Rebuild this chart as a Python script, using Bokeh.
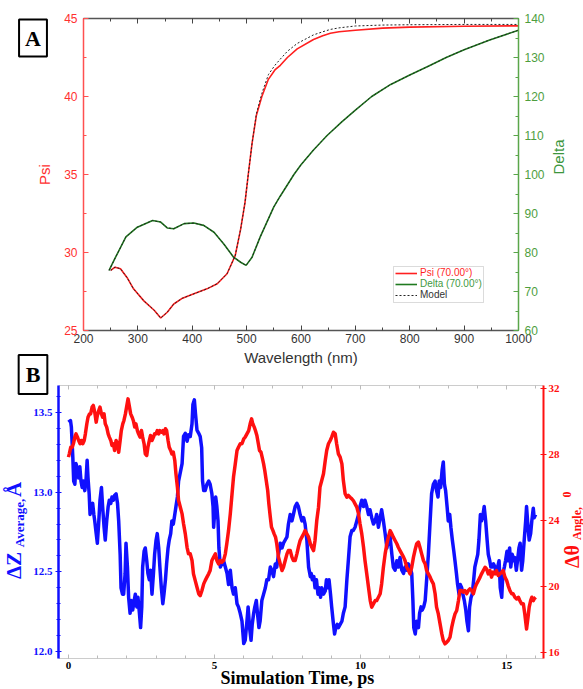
from math import pi
from bokeh.plotting import figure
from bokeh.models import (Range1d, LinearAxis, SingleIntervalTicker, PrintfTickFormatter,
                          Label, Legend, LegendItem, BoxAnnotation)
from bokeh.embed import file_html
from bokeh.resources import INLINE

# ---------------- Panel A data (ellipsometry) ----------------
wl_psi = [250, 258, 268, 280, 292, 311, 330, 342, 354, 366, 382, 403, 427, 446, 464, 470,
          479, 489, 497, 503, 510, 518, 528, 540, 552, 562, 575, 593, 623, 640, 654, 670,
          700, 750, 800, 900, 1000]
psi = [28.85, 29.06, 28.96, 28.40, 27.67, 26.90, 26.30, 25.80, 26.17, 26.70, 27.07, 27.35,
       27.67, 28.00, 28.64, 29.10, 29.80, 31.50, 33.20, 35.00, 37.00, 38.80, 40.00, 41.10,
       41.70, 42.00, 42.50, 43.05, 43.65, 43.90, 44.05, 44.15, 44.25, 44.38, 44.45, 44.50, 44.53]
psi_model = [28.85, 29.06, 28.96, 28.40, 27.67, 26.90, 26.30, 25.80, 26.17, 26.70, 27.07, 27.35,
             27.67, 28.00, 28.64, 29.10, 29.80, 31.50, 33.20, 35.00, 37.00, 38.90, 40.20, 41.40,
             42.00, 42.40, 42.90, 43.40, 43.95, 44.15, 44.30, 44.40, 44.52, 44.58, 44.60, 44.62,
             44.62]

wl_delta = [247, 259, 278, 299, 327, 342, 354, 366, 385, 403, 421, 440, 458, 476, 489, 499,
            510, 525, 550, 562, 587, 600, 623, 648, 675, 700, 730, 765, 800, 835, 867, 900,
            947, 1000]
delta = [75.4, 78.8, 84.0, 86.5, 88.2, 87.8, 86.3, 86.1, 87.4, 87.55, 86.95, 85.2, 82.2, 78.8,
         77.5, 76.7, 78.8, 84.0, 91.7, 94.5, 100.0, 102.5, 106.3, 110.0, 113.5, 116.5, 120.0,
         123.1, 125.5, 127.8, 130.0, 132.0, 134.5, 137.0]
delta_model = [75.4, 78.8, 84.0, 86.5, 88.2, 87.8, 86.3, 86.1, 87.4, 87.55, 86.95, 85.2, 82.2,
               78.8, 77.5, 76.7, 78.8, 84.0, 91.7, 94.5, 100.0, 102.5, 106.3, 110.0, 113.5,
               116.5, 120.0, 123.1, 125.5, 127.8, 130.0, 132.0, 134.5, 137.0]

legend_labels = ["Psi (70.00°)", "Delta (70.00°)", "Model"]

# ---------------- Panel B data (simulation) ----------------
t_z = [0.00, 0.07, 0.10, 0.15, 0.18, 0.22, 0.26, 0.31, 0.35, 0.39, 0.43, 0.47, 0.51, 0.56, 0.60,
       0.64, 0.67, 0.71, 0.74, 0.79, 0.83, 0.87, 0.90, 0.95, 0.99, 1.04, 1.08, 1.13, 1.17, 1.22,
       1.26, 1.31, 1.36, 1.40, 1.45, 1.49, 1.54, 1.58, 1.63, 1.68, 1.72, 1.77, 1.80, 1.85, 1.89,
       1.94, 1.97, 2.02, 2.06, 2.11, 2.15, 2.20, 2.25, 2.29, 2.34, 2.38, 2.43, 2.47, 2.51, 2.54,
       2.59, 2.63, 2.68, 2.72, 2.77, 2.81, 2.86, 2.91, 2.95, 3.00, 3.04, 3.09, 3.13, 3.18, 3.23,
       3.27, 3.32, 3.36, 3.41, 3.45, 3.50, 3.54, 3.59, 3.64, 3.68, 3.73, 3.77,
       3.89, 3.94, 4.00, 4.06, 4.11, 4.17, 4.23, 4.26, 4.31, 4.35, 4.40, 4.46, 4.51, 4.56, 4.59,
       4.63, 4.68, 4.74, 4.80, 4.85, 4.91, 4.95, 4.97, 5.00, 5.04, 5.08, 5.12, 5.15, 5.20, 5.25,
       5.31, 5.37, 5.43, 5.48, 5.54, 5.60, 5.65, 5.71, 5.77, 5.82, 5.88, 5.94, 6.00, 6.05, 6.11,
       6.15, 6.20, 6.25, 6.29, 6.34, 6.38, 6.43, 6.47, 6.52, 6.56, 6.62, 6.68, 6.74, 6.79, 6.85,
       6.91, 6.96, 7.02, 7.08, 7.13, 7.19, 7.25, 7.31, 7.36, 7.42, 7.48, 7.53, 7.59, 7.65, 7.70,
       7.76, 7.82, 7.87, 7.93, 7.99, 8.05, 8.10, 8.16, 8.22, 8.28,
       8.31, 8.35, 8.40, 8.44, 8.49, 8.54, 8.58, 8.63, 8.67, 8.73, 8.79, 8.83, 8.88, 8.92, 8.97,
       9.01, 9.06, 9.11, 9.15, 9.20, 9.24, 9.30, 9.36, 9.41, 9.47, 9.53, 9.58, 9.64, 9.70, 9.75,
       9.81, 9.87, 9.93, 9.98, 10.04, 10.10, 10.15, 10.21, 10.27, 10.32, 10.38, 10.44, 10.50,
       10.55, 10.61, 10.67, 10.72, 10.78, 10.84, 10.90, 10.95, 11.01, 11.07, 11.12, 11.18, 11.24,
       11.29, 11.35, 11.41, 11.47, 11.52, 11.58, 11.63, 11.69, 11.75, 11.79, 11.82, 11.87, 11.92,
       11.98, 12.02, 12.07, 12.11, 12.16, 12.21, 12.26, 12.32, 12.38, 12.43, 12.49, 12.55,
       12.60, 12.65, 12.69, 12.74, 12.79, 12.83, 12.87, 12.91, 12.96, 13.00, 13.05, 13.09, 13.14,
       13.19, 13.23, 13.28, 13.32, 13.37, 13.41, 13.46, 13.50, 13.55, 13.60, 13.64, 13.69, 13.73,
       13.78, 13.82, 13.87, 13.91, 13.96, 14.01, 14.05, 14.10, 14.14, 14.19, 14.23, 14.28, 14.33,
       14.37, 14.42, 14.46, 14.51, 14.55, 14.60, 14.64, 14.69, 14.74, 14.78, 14.83, 14.87, 14.92,
       14.96, 15.01, 15.05, 15.10, 15.14, 15.19, 15.24, 15.28, 15.33, 15.37, 15.42, 15.46, 15.51,
       15.55, 15.60, 15.65, 15.68, 15.73, 15.77, 15.82, 15.86, 15.91, 15.94, 15.99]
dz_avg = [13.44, 13.45, 13.41, 13.22, 13.07, 13.05, 13.18, 13.14, 13.09, 13.16, 13.07, 13.03, 13.07,
          13.01, 13.07, 13.20, 13.09, 12.99, 12.86, 12.91, 12.93, 12.86, 12.82, 12.74, 12.68, 12.82,
          12.95, 13.03, 12.91, 12.78, 12.70, 12.82, 12.91, 12.95, 12.93, 12.97, 12.95, 12.98, 12.99,
          12.93, 12.82, 12.61, 12.40, 12.36, 12.36, 12.49, 12.68, 12.53, 12.34, 12.24, 12.32, 12.26,
          12.32, 12.36, 12.28, 12.34, 12.24, 12.15, 12.28, 12.53, 12.63, 12.65, 12.57, 12.49, 12.45,
          12.51, 12.36, 12.49, 12.61, 12.70, 12.74, 12.65, 12.53, 12.40, 12.30, 12.36, 12.45, 12.55,
          12.65, 12.70, 12.74, 12.82, 12.80, 12.86, 12.91, 12.97, 13.07,
          13.18, 13.35, 13.37, 13.32, 13.36, 13.35, 13.43, 13.55, 13.58, 13.49, 13.39, 13.37, 13.35,
          13.28, 13.07, 13.01, 13.01, 13.05, 13.07, 13.05, 12.99, 12.91, 12.78, 12.86, 12.97, 12.91,
          12.82, 12.65, 12.53, 12.55, 12.57, 12.53, 12.49, 12.42, 12.51, 12.40, 12.36, 12.40, 12.30,
          12.28, 12.24, 12.19, 12.05, 12.07, 12.19, 12.28, 12.15, 12.07, 12.17, 12.24, 12.28, 12.32,
          12.24, 12.15, 12.19, 12.32, 12.36, 12.40, 12.45, 12.45, 12.53, 12.51, 12.47, 12.55, 12.53,
          12.61, 12.68, 12.65, 12.68, 12.70, 12.72, 12.80, 12.86, 12.82, 12.86, 12.91, 12.93, 12.91,
          12.86, 12.82, 12.84, 12.80, 12.70, 12.53, 12.47,
          12.49, 12.45, 12.47, 12.40, 12.45, 12.36, 12.40, 12.34, 12.40, 12.36, 12.38, 12.45, 12.40,
          12.45, 12.36, 12.28, 12.19, 12.11, 12.15, 12.17, 12.15, 12.17, 12.19, 12.24, 12.28, 12.45,
          12.57, 12.72, 12.76, 12.76, 12.78, 12.82, 12.86, 12.91, 12.95, 12.91, 12.95, 12.91, 12.86,
          12.89, 12.84, 12.80, 12.82, 12.86, 12.78, 12.84, 12.89, 12.82, 12.74, 12.65, 12.70, 12.72,
          12.61, 12.53, 12.51, 12.57, 12.53, 12.59, 12.51, 12.49, 12.53, 12.51, 12.55, 12.53, 12.49,
          12.32, 12.15, 12.11, 12.19, 12.15, 12.24, 12.28, 12.26, 12.28, 12.32, 12.45, 12.61, 12.82,
          12.99, 13.05, 13.07,
          13.01, 12.97, 13.07, 13.03, 13.14, 13.19, 13.05, 13.01, 12.91, 12.82, 12.86, 12.78, 12.70,
          12.63, 12.57, 12.49, 12.42, 12.36, 12.42, 12.40, 12.36, 12.32, 12.26, 12.19, 12.13, 12.28,
          12.34, 12.36, 12.45, 12.53, 12.57, 12.61, 12.70, 12.86, 12.82, 12.86, 12.91, 12.82, 12.70,
          12.61, 12.57, 12.53, 12.53, 12.55, 12.53, 12.49, 12.53, 12.57, 12.40, 12.34, 12.49, 12.53,
          12.57, 12.63, 12.57, 12.65, 12.53, 12.61, 12.57, 12.59, 12.51, 12.57, 12.65, 12.68, 12.51,
          12.57, 12.70, 12.82, 12.91, 12.78, 12.70, 12.74, 12.82, 12.90, 12.84, 12.86]

t_a = [0.00, 0.03, 0.08, 0.13, 0.17, 0.22, 0.26, 0.31, 0.35, 0.40, 0.44, 0.49, 0.54, 0.58, 0.63,
       0.67, 0.72, 0.76, 0.81, 0.85, 0.90, 0.95, 0.99, 1.04, 1.08, 1.13, 1.17, 1.22, 1.26, 1.31,
       1.36, 1.40, 1.45, 1.49, 1.54, 1.58, 1.63, 1.68, 1.72, 1.77, 1.81, 1.86, 1.90, 1.95, 1.99,
       2.04, 2.09, 2.13, 2.18, 2.22, 2.27, 2.31, 2.36, 2.40, 2.45, 2.50, 2.54, 2.59, 2.63, 2.68,
       2.72, 2.77, 2.81, 2.86, 2.91, 2.95, 3.00, 3.04, 3.09, 3.13, 3.18, 3.23, 3.27, 3.32, 3.36,
       3.41, 3.45, 3.50, 3.54, 3.59, 3.64, 3.68, 3.73, 3.77,
       3.89, 3.94, 4.00, 4.06, 4.11, 4.17, 4.23, 4.28, 4.34, 4.40, 4.46, 4.51, 4.57, 4.63, 4.68,
       4.74, 4.80, 4.85, 4.91, 4.97, 5.03, 5.08, 5.14, 5.20, 5.25, 5.31, 5.37, 5.42, 5.48, 5.54,
       5.60, 5.65, 5.71, 5.77, 5.82, 5.88, 5.94, 6.00, 6.05, 6.11, 6.17, 6.22, 6.27, 6.31, 6.36,
       6.40, 6.45, 6.50, 6.54, 6.59, 6.63, 6.68, 6.72, 6.77, 6.82, 6.86, 6.91, 6.95, 7.00, 7.04,
       7.09, 7.13, 7.19, 7.25, 7.31, 7.36, 7.42, 7.48, 7.53, 7.59, 7.65, 7.70, 7.76, 7.82, 7.87,
       7.93, 7.99, 8.05, 8.10, 8.16, 8.22, 8.28,
       8.33, 8.39, 8.44, 8.50, 8.56, 8.61, 8.67, 8.73, 8.79, 8.84, 8.90, 8.96, 9.01, 9.07, 9.13,
       9.18, 9.24, 9.30, 9.36, 9.41, 9.47, 9.53, 9.58, 9.64, 9.70, 9.75, 9.81, 9.87, 9.93, 9.98,
       10.04, 10.10, 10.15, 10.21, 10.27, 10.33, 10.38, 10.44, 10.50, 10.55, 10.61, 10.67, 10.72,
       10.78, 10.84, 10.90, 10.95, 11.01, 11.07, 11.12, 11.18, 11.24, 11.29, 11.35, 11.41, 11.47,
       11.52, 11.58, 11.64, 11.69, 11.75, 11.81, 11.86, 11.92, 11.98, 12.03, 12.09, 12.15, 12.21,
       12.26, 12.32, 12.38, 12.43, 12.49, 12.55,
       12.60, 12.66, 12.72, 12.78, 12.83, 12.89, 12.95, 13.00, 13.06, 13.12, 13.17, 13.23, 13.29,
       13.35, 13.40, 13.46, 13.52, 13.57, 13.63, 13.69, 13.74, 13.80, 13.86, 13.92, 13.97, 14.03,
       14.09, 14.14, 14.20, 14.26, 14.31, 14.37, 14.43, 14.48, 14.54, 14.60, 14.65, 14.71, 14.77,
       14.83, 14.88, 14.94, 15.00, 15.05, 15.11, 15.17, 15.22, 15.28, 15.34, 15.40, 15.45, 15.51,
       15.57, 15.62, 15.68, 15.73, 15.77, 15.82, 15.86, 15.91, 15.94, 15.99]
d_theta = [27.84, 28.04, 28.44, 28.44, 28.65, 29.05, 29.25, 29.05, 28.85, 28.65, 28.85, 28.65, 28.85,
           29.25, 29.86, 30.26, 30.46, 30.46, 30.87, 30.97, 30.57, 29.96, 30.36, 30.67, 30.87, 30.46,
           30.26, 30.46, 29.86, 29.66, 29.25, 29.05, 28.85, 28.55, 28.65, 28.24, 28.85, 28.65, 28.14,
           28.85, 29.45, 29.86, 30.06, 30.46, 30.87, 31.37, 30.87, 30.46, 30.26, 30.06, 29.66, 29.86,
           29.45, 29.25, 29.05, 29.45, 29.05, 28.65, 28.04, 27.94, 28.44, 28.85, 29.15, 28.85, 29.05,
           29.25, 29.25, 29.45, 29.25, 29.45, 29.35, 29.45, 29.25, 29.56, 29.45, 28.85, 28.44, 28.24,
           28.04, 28.14, 27.64, 26.83, 26.02, 25.21,
           24.40, 23.80, 23.19, 22.38, 21.98, 21.98, 21.58, 20.77, 20.36, 19.96, 19.56, 19.45, 19.76,
           20.16, 20.36, 20.57, 20.77, 20.97, 21.58, 21.78, 21.98, 21.58, 21.37, 21.58, 21.47, 21.58,
           21.98, 22.59, 23.39, 24.40, 25.62, 26.63, 27.43, 28.24, 28.44, 28.65, 28.65, 28.95, 29.05,
           29.25, 29.45, 29.86, 30.16, 29.86, 29.66, 29.45, 29.15, 28.65, 28.24, 28.14, 27.84, 27.43,
           27.03, 26.42, 25.82, 25.01, 24.20, 23.60, 23.39, 23.19, 22.99, 22.59, 21.78, 21.37, 20.97,
           21.17, 21.58, 21.98, 22.18, 22.18, 21.78, 21.58, 21.58, 21.98, 22.38, 22.79, 22.99, 23.19,
           23.39, 23.19, 22.99, 22.59,
           22.38, 22.18, 22.79, 24.00, 24.81, 26.02, 26.42, 26.83, 27.64, 28.24, 28.65, 28.85, 29.05,
           29.35, 29.25, 28.65, 28.04, 27.84, 27.43, 26.42, 25.62, 25.41, 25.52, 25.41, 25.31, 25.21,
           25.01, 24.81, 24.40, 23.80, 23.19, 22.38, 21.58, 20.77, 19.96, 19.15, 18.75, 18.95, 19.15,
           19.15, 19.35, 19.56, 20.16, 21.17, 21.98, 22.59, 22.99, 23.39, 23.19, 22.99, 22.79, 22.59,
           22.38, 22.18, 21.98, 21.78, 21.58, 21.17, 20.97, 20.77, 21.17, 21.78, 22.18, 22.59, 22.69,
           22.38, 21.98, 21.58, 21.37, 20.97, 20.77, 20.57, 20.36, 20.16, 19.56,
           18.75, 18.34, 17.74, 17.13, 16.73, 16.53, 16.63, 16.73, 16.93, 17.54, 17.94, 18.34, 18.55,
           19.15, 19.76, 19.76, 19.66, 19.76, 19.56, 19.76, 19.86, 19.76, 19.56, 19.96, 20.16, 20.36,
           20.57, 20.77, 20.97, 21.17, 21.07, 20.77, 20.97, 20.57, 20.87, 20.77, 20.97, 20.67, 20.77,
           20.87, 20.97, 20.57, 20.36, 20.06, 19.76, 19.56, 19.56, 19.35, 19.25, 19.35, 19.15, 18.95,
           18.95, 18.34, 17.43, 18.14, 18.75, 19.15, 19.35, 19.15, 19.25, 19.35]

SANS = "Liberation Sans"
SERIF = "Liberation Serif"

RED_A = "#ff1f1f"
GREEN_A = "#1f7a1f"
GREEN_AX = "#5aa64a"
BLUE_B = "#1010ff"
RED_B = "#ff1010"


def axis(ticker, line_color, line_width, tick_color, lab_color, font, size, style="normal",
         t_in=5, t_out=0, m_in=3, m_out=0, standoff=4, fmt=None, **kw):
    ax = LinearAxis(ticker=ticker, axis_line_color=line_color, axis_line_width=line_width,
                    major_tick_line_color=tick_color, minor_tick_line_color=tick_color,
                    major_tick_line_width=1, minor_tick_line_width=1,
                    major_tick_in=t_in, major_tick_out=t_out, minor_tick_in=m_in, minor_tick_out=m_out,
                    major_label_text_font=font, major_label_text_font_size=size,
                    major_label_text_font_style=style, major_label_text_color=lab_color,
                    major_label_standoff=standoff, **kw)
    if fmt is not None:
        ax.formatter = fmt
    return ax


def text(fig, side, x, y, txt, size, color, font, style="normal", angle=0.0, **kw):
    # x, y: page pixels of the text centre (the first figure spans the whole page)
    fig.add_layout(Label(x=x, y=y, x_units="canvas", y_units="canvas", text=txt, angle=angle,
                         text_font=font, text_font_style=style, text_font_size=size,
                         text_color=color, text_align="center", text_baseline="middle", **kw),
                   side)


# ======================= Panel A (its canvas spans the full page) =======================
p1 = figure(width=583, height=689, x_range=Range1d(200, 1000), y_range=Range1d(25, 45),
            x_axis_location=None, y_axis_location=None, output_backend="svg",
            toolbar_location=None, min_border_left=83, min_border_right=65,
            min_border_top=18, min_border_bottom=359)
p1.extra_y_ranges = {"delta": Range1d(60, 140)}
p1.grid.visible = False
p1.outline_line_color = None

p1.add_layout(axis(SingleIntervalTicker(interval=100, num_minor_ticks=2), "#555", 1.5, "#444",
                   "#333", SANS, "12px", standoff=3, axis_label="Wavelength (nm)",
                   axis_label_text_font=SANS, axis_label_text_font_size="15px",
                   axis_label_text_font_style="normal", axis_label_text_color="#333333",
                   axis_label_standoff=3), "below")
p1.add_layout(axis(SingleIntervalTicker(interval=100, num_minor_ticks=2), "#555", 1.5, "#444",
                   "#333", SANS, "1px",
                   major_label_overrides={v: "" for v in range(200, 1001, 100)}), "above")
p1.add_layout(axis(SingleIntervalTicker(interval=5, num_minor_ticks=2), "#ff5050", 1.5, "#ff5050",
                   "#ff3030", SANS, "12px", standoff=6, axis_label="Psi",
                   axis_label_text_font=SANS, axis_label_text_font_size="15px",
                   axis_label_text_font_style="normal", axis_label_text_color="#ff3030",
                   axis_label_standoff=8), "left")
p1.add_layout(axis(SingleIntervalTicker(interval=10, num_minor_ticks=2), GREEN_AX, 1.5, GREEN_AX,
                   "#4e9e3e", SANS, "12px", standoff=6, y_range_name="delta", axis_label="Delta",
                   axis_label_text_font=SANS, axis_label_text_font_size="15px",
                   axis_label_text_font_style="normal", axis_label_text_color="#3c963c",
                   axis_label_standoff=11, axis_label_orientation=pi / 2), "right")

r_psi = p1.line(wl_psi, psi, line_color=RED_A, line_width=1.6)
r_del = p1.line(wl_delta, delta, line_color=GREEN_A, line_width=1.6, y_range_name="delta")
r_mod = p1.line(wl_psi, psi_model, line_color="#222222", line_width=1, line_dash="2 2")
p1.line(wl_delta, delta_model, line_color="#222222", line_width=1, line_dash="2 2",
        y_range_name="delta")

leg_colors = [RED_A, "#3f9a3f", "#333333"]
for i, (lab, rend, col) in enumerate(zip(legend_labels, [r_psi, r_del, r_mod], leg_colors)):
    lg = Legend(items=[LegendItem(label=lab, renderers=[rend])], location=(312, 52 - 11 * i),
                border_line_color=None, background_fill_alpha=0, padding=0, margin=0,
                spacing=0, label_text_font=SANS, label_text_font_size="10px",
                label_text_color=col, glyph_width=22, glyph_height=10, label_height=10,
                label_standoff=3)
    p1.add_layout(lg, "center")
p1.add_layout(BoxAnnotation(left=310, right=400, bottom=28, top=64, left_units="screen",
                            right_units="screen", bottom_units="screen", top_units="screen",
                            fill_color=None, line_color="#888888", line_width=1))

text(p1, "left", 32.5, 37.5, "A", "22px", "black", SERIF, style="bold",
     border_line_color="black", border_line_width=2, background_fill_color="white", padding=6)

# titles of panel B, drawn on the page-wide canvas below panel A (panel B lies on top)
text(p1, "below", 32.5, 374, "B", "22px", "black", SERIF, style="bold",
     border_line_color="black", border_line_width=2, background_fill_color="white", padding=7)
text(p1, "below", 297, 677, "Simulation Time, ps", "18px", "black", SERIF, style="bold")
text(p1, "below", 13.5, 565, "ΔZ", "21px", BLUE_B, SERIF, style="bold", angle=pi / 2)
text(p1, "below", 18.5, 522.5, "Average,", "13px", BLUE_B, SERIF, style="bold", angle=pi / 2)
text(p1, "below", 13.5, 489, "Å", "21px", BLUE_B, SERIF, style="bold", angle=pi / 2)
text(p1, "below", 571, 556, "Δθ", "20px", RED_B, SERIF, style="bold", angle=pi / 2)
text(p1, "below", 576, 523, "Angle,", "12px", RED_B, SERIF, style="bold", angle=pi / 2)
text(p1, "below", 566, 494, "0", "12px", RED_B, SERIF, style="bold", angle=pi / 2)

# ======================= Panel B (overlaps the lower part of the page) =======================
p2 = figure(width=583, height=339, x_range=Range1d(-0.34, 16.26), y_range=Range1d(11.956, 13.67),
            x_axis_location=None, y_axis_location=None, output_backend="svg",
            toolbar_location=None, min_border_left=58, min_border_right=40,
            min_border_top=35, min_border_bottom=31, margin=(-339, 0, 0, 0))
p2.extra_y_ranges = {"ang": Range1d(15.64, 32.18)}
p2.grid.visible = False
p2.outline_line_color = None
p2.border_fill_color = None
p2.background_fill_color = None

p2.add_layout(axis(SingleIntervalTicker(interval=5, num_minor_ticks=5), "#cccccc", 1, "#bbbbbb",
                   "black", SERIF, "11px", style="bold", t_in=4, m_in=3, standoff=3), "below")
p2.add_layout(axis(SingleIntervalTicker(interval=5, num_minor_ticks=5), "#cccccc", 1, "#bbbbbb",
                   "black", SERIF, "1px", t_in=4, m_in=3,
                   major_label_overrides={v: "" for v in range(0, 20, 5)}), "above")
p2.add_layout(axis(SingleIntervalTicker(interval=0.5, num_minor_ticks=5), BLUE_B, 2.5, BLUE_B,
                   BLUE_B, SERIF, "11px", style="bold", t_in=3, t_out=3, m_in=2, m_out=2,
                   standoff=3, fmt=PrintfTickFormatter(format="%.1f")), "left")
p2.add_layout(axis(SingleIntervalTicker(interval=4, num_minor_ticks=0), RED_B, 2, RED_B,
                   RED_B, SERIF, "11px", style="bold", t_in=3, t_out=3, m_in=0, m_out=0,
                   standoff=2, y_range_name="ang"), "right")

p2.line(t_z, dz_avg, line_color=BLUE_B, line_width=3.5, line_join="round")
p2.line(t_a, d_theta, line_color=RED_B, line_width=3.5, line_join="round", y_range_name="ang")

open("out.html", "w").write(file_html([p1, p2], INLINE))
